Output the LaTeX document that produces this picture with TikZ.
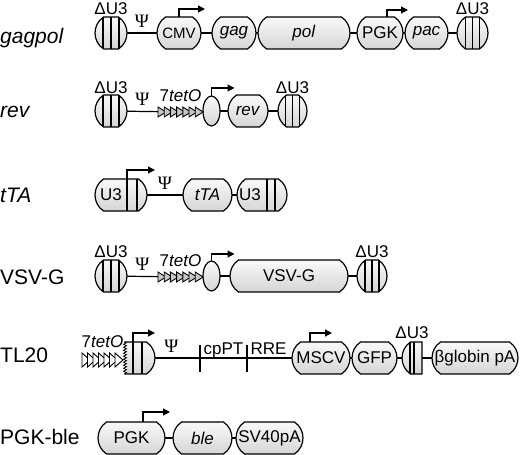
\documentclass[tikz,border=0pt]{standalone}
\usepackage{fontspec}
\setmainfont{Liberation Sans}
\newfontfamily\psifont{Liberation Serif}
\usetikzlibrary{shapes.geometric,arrows.meta,positioning,decorations.pathmorphing}
\pgfdeclareverticalshading{tube}{100bp}{color(0bp)=(gray!55); color(30bp)=(gray!30); color(72bp)=(gray!6); color(100bp)=(gray!30)}
% capsule: a box with bulging ends, its anchors on the full outline
\makeatletter
\newdimen\capL \newdimen\capR \newdimen\capT \newdimen\capB
\newdimen\capH \newdimen\capW \newdimen\capX \newdimen\capY
\pgfkeys{/pgf/capsule left/.initial=1, /pgf/capsule right/.initial=1}
\pgfdeclareshape{capsule}{%
  \inheritsavedanchors[from=rectangle]%
  \inheritanchorborder[from=rectangle]%
  \inheritanchor[from=rectangle]{center}%
  \inheritanchor[from=rectangle]{north}%
  \inheritanchor[from=rectangle]{south}%
  \inheritanchor[from=rectangle]{east}%
  \inheritanchor[from=rectangle]{west}%
  \inheritanchor[from=rectangle]{base}%
  \inheritanchor[from=rectangle]{mid}%
  \backgroundpath{%
    \southwest \capL=\pgf@x \capB=\pgf@y
    \northeast \capR=\pgf@x \capT=\pgf@y
    \capH=\capT \advance\capH by -\capB \capH=0.5\capH
    \capW=0.53125\capH \capX=0.708\capH \capY=0.478\capH
    \ifnum\pgfkeysvalueof{/pgf/capsule left}=1
      \pgfpathmoveto{\pgfpoint{\capL+\capW}{\capT}}%
    \else
      \pgfpathmoveto{\pgfpoint{\capL}{\capT}}%
    \fi
    \ifnum\pgfkeysvalueof{/pgf/capsule right}=1
      \pgfpathlineto{\pgfpoint{\capR-\capW}{\capT}}%
      \pgfpathcurveto{\pgfpoint{\capR-\capW+\capX}{\capT-\capY}}%
        {\pgfpoint{\capR-\capW+\capX}{\capB+\capY}}{\pgfpoint{\capR-\capW}{\capB}}%
    \else
      \pgfpathlineto{\pgfpoint{\capR}{\capT}}%
      \pgfpathlineto{\pgfpoint{\capR}{\capB}}%
    \fi
    \ifnum\pgfkeysvalueof{/pgf/capsule left}=1
      \pgfpathlineto{\pgfpoint{\capL+\capW}{\capB}}%
      \pgfpathcurveto{\pgfpoint{\capL+\capW-\capX}{\capB+\capY}}%
        {\pgfpoint{\capL+\capW-\capX}{\capT-\capY}}{\pgfpoint{\capL+\capW}{\capT}}%
    \else
      \pgfpathlineto{\pgfpoint{\capL}{\capB}}%
    \fi
    \pgfpathclose
  }%
}
\makeatother
\tikzset{
  gene/.style={capsule, draw, line width=1.2pt, minimum height=32pt, inner sep=0pt,
    outer sep=0pt, shade, shading=tube, font=\fontsize{17}{17}\selectfont},
  flatleft/.style={/pgf/capsule left=0},
  flatright/.style={/pgf/capsule right=0},
  prom/.style={ellipse, draw, line width=1.2pt, minimum width=17pt, minimum height=30pt,
    inner sep=0pt, outer sep=0pt, shade, shading=tube},
  tetbox/.style={minimum width=45pt, minimum height=10pt, inner sep=0pt, outer sep=0pt},
  tet/.style={line width=0.9pt, fill=white, line join=miter},
  link/.style={line width=1.2pt},
  tss/.style={line width=1.2pt, -{Triangle[length=7pt,width=7pt]}},
  rowname/.style={anchor=base west, inner sep=0pt, font=\fontsize{21}{21}\selectfont},
  seqlabel/.style={inner sep=0pt, font=\fontsize{17}{17}\selectfont},
  psi/.style={inner sep=0pt, font=\psifont\fontsize{19}{19}\selectfont}
}
\begin{document}
\begin{tikzpicture}[x=1pt,y=1pt]
%
\useasboundingbox (0,0) rectangle (520,455);
%
% gagpol
\node[rowname] (nGagpol) at (0,411) {\textit{gagpol}};
\node[gene,minimum width=32pt] (ltr1) at (111,422) {};
\node[gene,minimum width=44pt,font=\fontsize{15}{15}\selectfont] (cmv) at (179,422) {CMV};
\node[gene,minimum width=44pt] (gag) at (234,422) {\textit{gag}};
\node[gene,minimum width=92pt] (pol) at (304,422) {\textit{pol}};
\node[gene,minimum width=46pt] (pgk1) at (380,422) {PGK};
\node[gene,minimum width=43pt] (pac) at (426.5,422) {\textit{pac}};
\node[gene,minimum width=31pt] (ltr2) at (472.5,422) {};
\node[seqlabel,above=2pt of ltr1] (d1) {ΔU3};
\node[seqlabel,above=2pt of ltr2] (d2) {ΔU3};
\foreach \d in {-8,0,8} \draw[link] ([xshift=\d pt]ltr1.north) -- ([xshift=\d pt]ltr1.south);
\foreach \d in {-7,0,7} \draw[link] ([xshift=\d pt]ltr2.north) -- ([xshift=\d pt]ltr2.south);
\draw[link] (ltr1) -- node[psi,above=5pt] {Ψ} (cmv);
\draw[link] (cmv) -- (gag);
\draw[link] (gag) -- (pol);
\draw[link] (pol) -- (pgk1);
\draw[link] (pgk1) -- (pac);
\draw[link] (pac) -- (ltr2);
\draw[tss] (cmv.north) -- ++(0,8) -- ++(26,0);
\draw[tss] ([xshift=7pt]pgk1.north) -- ++(0,7) -- ++(21,0);
%
% rev
\node[rowname] (nRev) at (0,337) {\textit{rev}};
\node[gene,minimum width=32pt] (ltr3) at (111,344) {};
\node[tetbox] (tetA) at (180.5,343) {};
\node[prom] (promA) at (211.5,344) {};
\node[gene,minimum width=40pt] (rev) at (248,344) {\textit{rev}};
\node[gene,minimum width=29pt] (ltr4) at (292.5,344) {};
\node[seqlabel,above=1pt of ltr3] (d3) {ΔU3};
\node[seqlabel,above=1pt of ltr4] (d4) {ΔU3};
\node[seqlabel,above=5pt of tetA] (t1) {7\textit{tetO}};
\foreach \d in {-8,0,8} \draw[link] ([xshift=\d pt]ltr3.north) -- ([xshift=\d pt]ltr3.south);
\foreach \d in {-7,0,7} \draw[link] ([xshift=\d pt]ltr4.north) -- ([xshift=\d pt]ltr4.south);
\draw[link] (ltr3) -- node[psi,above=5pt] {Ψ} (tetA);
\draw[link] (promA) -- (rev);
\draw[link] (rev) -- (ltr4);
\foreach \i in {0,...,6} \draw[tet,fill=gray!45] ([xshift=\i*6.2pt]tetA.west) ++(0,5) -- ++(8,-5) -- ++(-8,-5) -- cycle;
\draw[tss] (promA.north) -- ++(0,8) -- ++(23,0);
%
% tTA
\node[rowname] (nTta) at (0,252) {\textit{tTA}};
\node[gene,minimum width=52pt,label={[seqlabel,xshift=-10pt]center:U3}] (u3a) at (121,260) {};
\node[gene,minimum width=49pt] (tta) at (207.5,260) {\textit{tTA}};
\node[gene,minimum width=50pt,label={[seqlabel,xshift=-12pt]center:U3}] (u3b) at (262,260) {};
\foreach \d in {6,16} \draw[link] ([xshift=\d pt]u3a.north) -- ([xshift=\d pt]u3a.south);
\foreach \d in {5,13} \draw[link] ([xshift=\d pt]u3b.north) -- ([xshift=\d pt]u3b.south);
\draw[link] (u3a) -- node[psi,above=5pt] {Ψ} (tta);
\draw[link] (tta) -- (u3b);
\draw[tss] ([xshift=6pt]u3a.north) -- ++(0,9) -- ++(28,0);
%
% VSV-G
\node[rowname] (nVsvg) at (0,170) {VSV-G};
\node[gene,minimum width=32pt] (ltr5) at (111,179) {};
\node[tetbox] (tetB) at (180.5,178) {};
\node[prom] (promB) at (211.5,179) {};
\node[gene,minimum width=118pt] (vsvg) at (289,179) {VSV-G};
\node[gene,minimum width=30pt] (ltr6) at (372,179) {};
\node[seqlabel,above=2pt of ltr5] (d5) {ΔU3};
\node[seqlabel,above=2pt of ltr6] (d6) {ΔU3};
\node[seqlabel,above=5pt of tetB] (t2) {7\textit{tetO}};
\foreach \d in {-8,0,8} \draw[link] ([xshift=\d pt]ltr5.north) -- ([xshift=\d pt]ltr5.south);
\foreach \d in {-7,0,7} \draw[link] ([xshift=\d pt]ltr6.north) -- ([xshift=\d pt]ltr6.south);
\draw[link] (ltr5) -- node[psi,above=5pt] {Ψ} (tetB);
\draw[link] (promB) -- (vsvg);
\draw[link] (vsvg) -- (ltr6);
\foreach \i in {0,...,6} \draw[tet,fill=gray!45] ([xshift=\i*6.2pt]tetB.west) ++(0,5) -- ++(8,-5) -- ++(-8,-5) -- cycle;
\draw[tss] (promB.north) -- ++(0,7) -- ++(23,0);
%
% TL20
\node[rowname] (nTl) at (0,92) {TL20};
\node[tetbox,minimum width=41pt,minimum height=14pt] (tetC) at (102.5,95) {};
\node[gene,flatleft,minimum width=30pt] (ltr7) at (140,97) {};
\coordinate (tickA) at (200,97);
\coordinate (tickB) at (247,97);
\node[gene,minimum width=58pt] (mscv) at (321,97) {MSCV};
\node[gene,minimum width=45pt] (gfp) at (374.5,97) {GFP};
\node[gene,flatright,minimum width=20pt] (ltr8) at (412,97) {};
\node[gene,minimum width=86pt] (globin) at (475,97) {βglobin pA};
\node[seqlabel,above=5pt of tetC] (t3) {7\textit{tetO}};
\node[seqlabel,above=3pt of ltr8] (d8) {ΔU3};
\node[seqlabel,anchor=base] (cppt) at (223.5,100) {cpPT};
\node[seqlabel,anchor=base] (rre) at (268.5,100) {RRE};
\draw[white,line width=2pt] ([yshift=15pt]ltr7.west) -- ([yshift=-15pt]ltr7.west);
\draw[line width=0.8pt,decorate,decoration={zigzag,amplitude=1.5pt,segment length=3pt}]
  ([yshift=16pt]ltr7.west) -- ([yshift=-16pt]ltr7.west);
\foreach \d in {-7,2} \draw[link] ([xshift=\d pt]ltr7.north) -- ([xshift=\d pt]ltr7.south);
\foreach \d in {-2,2} \draw[link] ([xshift=\d pt]ltr8.north) -- ([xshift=\d pt]ltr8.south);
\draw[link] (ltr7) -- node[psi,above=5pt,pos=0.12] {Ψ} (mscv);
\draw[link] (tickA) ++(0,-14) -- ++(0,27);
\draw[link] (tickB) ++(0,-14) -- ++(0,27);
\draw[link] (mscv) -- (gfp);
\draw[link] (gfp) -- (ltr8);
\draw[link] (ltr8) -- (globin);
\foreach \i in {0,...,6} \draw[tet] ([xshift=\i*5.5pt]tetC.west) ++(0,7) -- ++(8,-7) -- ++(-8,-7) -- cycle;
\draw[tss] ([xshift=-7pt]ltr7.north) -- ++(0,9) -- ++(22,0);
\draw[tss] ([xshift=-11pt]mscv.north) -- ++(0,9) -- ++(22,0);
%
% PGK-ble
\node[rowname] (nPgkble) at (0,10) {PGK-ble};
\node[gene,minimum width=67pt] (pgk2) at (131.5,17) {PGK};
\node[gene,minimum width=59pt] (ble) at (202.5,17) {\textit{ble}};
\node[gene,minimum width=67pt] (sv40) at (269.5,17) {SV40pA};
\draw[link] (pgk2) -- (ble);
\draw[link] (ble) -- (sv40);
\draw[tss] ([xshift=11.5pt]pgk2.north) -- ++(0,10) -- ++(27,0);
%
\end{tikzpicture}
\end{document}
